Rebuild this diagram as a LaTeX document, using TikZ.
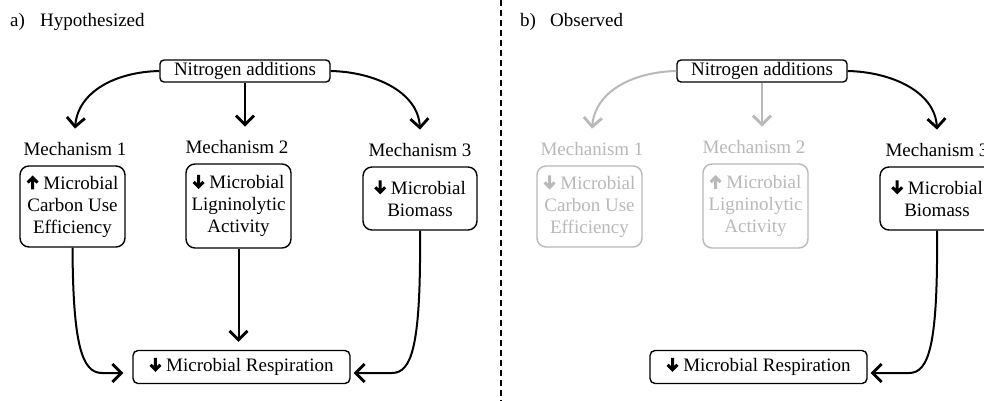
\documentclass[tikz,border=0pt]{standalone}
\usepackage{fontspec}
\setmainfont{Liberation Serif}
\usetikzlibrary{arrows.meta}
\definecolor{fadec}{RGB}{185,185,185}
\newcommand{\fs}{\fontsize{19}{22}\selectfont}
\newcommand{\dnarr}{\tikz[baseline=0pt,x=1pt,y=1pt,sharp corners]{\fill (0,0) -- (6,6) -- (3.88,8.12) -- (1.5,5.74) -- (1.5,14) -- (-1.5,14) -- (-1.5,5.74) -- (-3.88,8.12) -- (-6,6) -- cycle;}}
\newcommand{\uparr}{\tikz[baseline=0pt,x=1pt,y=1pt,sharp corners]{\fill (0,14) -- (6,8) -- (3.88,5.88) -- (1.5,8.26) -- (1.5,0) -- (-1.5,0) -- (-1.5,8.26) -- (-3.88,5.88) -- (-6,8) -- cycle;}}
\begin{document}
\begin{tikzpicture}[x=1pt,y=-1pt,
  box/.style={draw, rounded corners=9pt, line width=1.4pt, align=center, inner sep=0pt, font=\fs},
  nbox/.style={draw, rounded corners=4pt, line width=1.4pt, inner sep=0pt, font=\fs, minimum width=170pt, minimum height=22pt},
  rbox/.style={draw, rounded corners=5pt, line width=1.4pt, inner sep=0pt, font=\fs, minimum width=217pt, minimum height=33pt},
  lbl/.style={font=\fs, inner sep=0pt},
  mech/.style={font=\fs, inner xsep=0pt, inner ysep=13pt},
  conn/.style={line width=2pt, -{Straight Barb[length=9pt,width=18pt,line width=2.8pt]}},
  faded/.style={draw=fadec, text=fadec},
  fadedline/.style={draw=fadec},
  divider/.style={line width=2pt, dash pattern=on 6pt off 4pt}]
\useasboundingbox (0,0) rectangle (984,401);
\clip (0,0) rectangle (984,401);
\fill[white] (0,0) rectangle (984,401);

% ---------- panel a ----------
\node[lbl, anchor=base west] (aA) at (10,27) {a)};
\node[lbl, anchor=base west] (aT) at (40,27) {Hypothesized};
\node[nbox] (aN) at (245,71) {Nitrogen additions};
\node[mech, anchor=base] (am1) at (75,155) {Mechanism 1};
\node[mech, anchor=base] (am2) at (237,153) {Mechanism 2};
\node[mech, anchor=base] (am3) at (420,156) {Mechanism 3};
\node[box, minimum width=105pt, minimum height=81pt] (ab1) at (72.5,206.5) {\uparr{} Microbial\\Carbon Use\\Efficiency};
\node[box, minimum width=105pt, minimum height=84pt] (ab2) at (238.5,206) {\dnarr{} Microbial\\Ligninolytic\\Activity};
\node[box, minimum width=114pt, minimum height=63pt] (ab3) at (420,198.5) {\dnarr{} Microbial\\Biomass};
\node[rbox] (ar) at (241.5,367) {\dnarr{} Microbial Respiration};
\coordinate (aj1) at (102,373);
\coordinate (aj3) at (392,373);
\draw[conn] (aN.west) .. controls (115,72) and (78,92) .. (am1.north);
\draw[conn] (aN.south) -- (aN.south |- am2.north);
\draw[conn] (aN.east) .. controls (375,72) and (418,92) .. (am3.north);
\draw[conn, shorten >=9pt] (ab1.south) .. controls (73,345) and (82,373) .. (aj1) -- (aj1 -| ar.west);
\draw[conn, shorten >=8pt] (ab2.south) -- (ab2.south |- ar.north);
\draw[conn, shorten >=3pt] (ab3.south) .. controls (421,345) and (412,373) .. (aj3) -- (aj3 -| ar.east);

% ---------- divider ----------
\draw[divider] (500.5,0) -- (500.5,401);

% ---------- panel b ----------
\begin{scope}[xshift=517pt]
\node[lbl, anchor=base west] (bA) at (3,27) {b)};
\node[lbl, anchor=base west] (bT) at (33,27) {Observed};
\node[nbox] (bN) at (245,71) {Nitrogen additions};
\node[mech, anchor=base, text=fadec] (bm1) at (75,155) {Mechanism 1};
\node[mech, anchor=base, text=fadec] (bm2) at (237,153) {Mechanism 2};
\node[mech, anchor=base] (bm3) at (420,156) {Mechanism 3};
\node[box, faded, minimum width=105pt, minimum height=81pt] (bb1) at (72.5,206.5) {\dnarr{} Microbial\\Carbon Use\\Efficiency};
\node[box, faded, minimum width=105pt, minimum height=84pt] (bb2) at (238.5,206) {\uparr{} Microbial\\Ligninolytic\\Activity};
\node[box, minimum width=114pt, minimum height=63pt] (bb3) at (420,198.5) {\dnarr{} Microbial\\Biomass};
\node[rbox] (br) at (241.5,367) {\dnarr{} Microbial Respiration};
\coordinate (bj3) at (392,373);
\draw[conn, fadedline] (bN.west) .. controls (115,72) and (78,92) .. (bm1.north);
\draw[conn, fadedline] (bN.south) -- (bN.south |- bm2.north);
\draw[conn] (bN.east) .. controls (375,72) and (418,92) .. (bm3.north);
\draw[conn, shorten >=3pt] (bb3.south) .. controls (421,345) and (412,373) .. (bj3) -- (bj3 -| br.east);
\end{scope}
\end{tikzpicture}
\end{document}
